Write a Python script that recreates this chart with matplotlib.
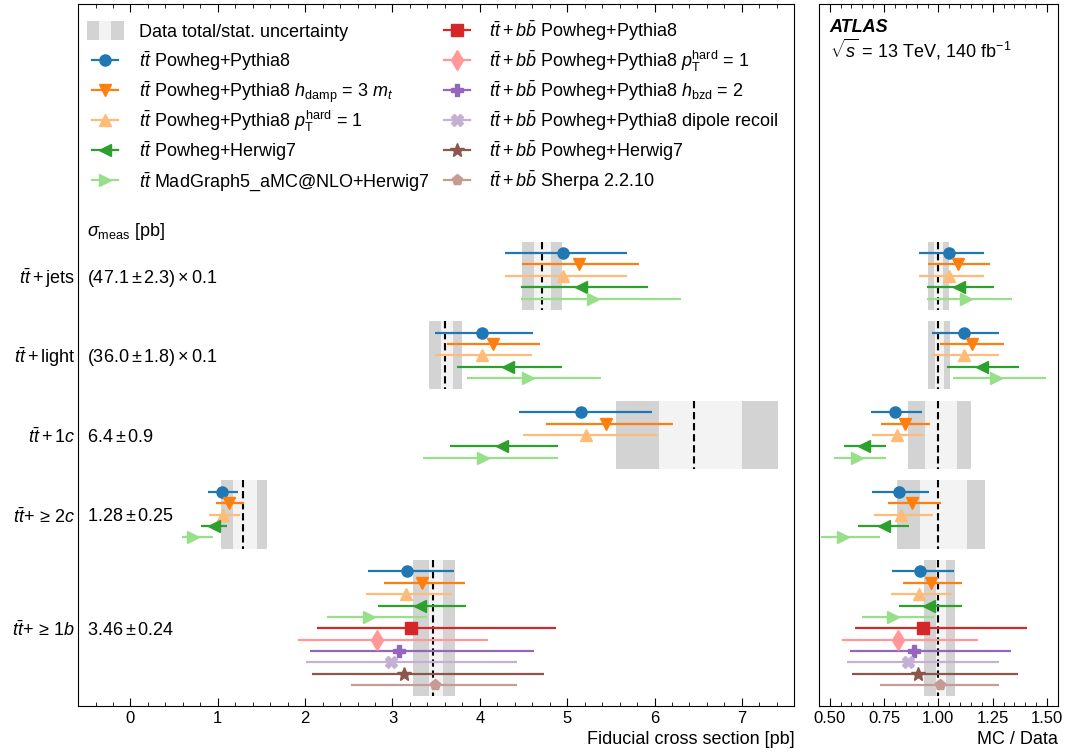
import numpy as np
import matplotlib
matplotlib.use("Agg")
from matplotlib import pyplot as plt
from matplotlib.patches import Rectangle
from matplotlib.ticker import MultipleLocator, FormatStrFormatter

plt.rcParams['font.family'] = ['Liberation Sans', 'DejaVu Sans']
plt.rcParams['mathtext.fontset'] = 'custom'
plt.rcParams['mathtext.rm'] = 'Liberation Sans'
plt.rcParams['mathtext.it'] = 'Liberation Sans:italic'
plt.rcParams['mathtext.bf'] = 'Liberation Sans:bold'

# categories (top to bottom)
cat_labels = [r"$t\bar{t}+\mathrm{jets}$", r"$t\bar{t}+\mathrm{light}$", r"$t\bar{t}+1c$",
              r"$t\bar{t}{+}\,\geq\,2c$", r"$t\bar{t}{+}\,\geq\,1b$"]
meas_labels = [r"$(47.1\pm2.3)\times0.1$", r"$(36.0\pm1.8)\times0.1$", r"$6.4\pm0.9$",
               r"$1.28\pm0.25$", r"$3.46\pm0.24$"]

# measured values [pb] (jets and light scaled by 0.1)
data_val = np.array([4.71, 3.60, 6.45, 1.283, 3.46])
tot_lo = np.array([4.48, 3.42, 5.56, 1.04, 3.23])
tot_hi = np.array([4.94, 3.80, 7.41, 1.56, 3.72])
stat_lo = np.array([4.62, 3.55, 6.05, 1.177, 3.42])
stat_hi = np.array([4.82, 3.69, 7.00, 1.451, 3.58])

# tt predictions: central, low, high for each category
tt_names = ["Powheg+Pythia8",
            r"Powheg+Pythia8 $h_{\mathrm{damp}}$ = 3 $m_t$",
            r"Powheg+Pythia8 $p_{\mathrm{T}}^{\mathrm{hard}}$ = 1",
            "Powheg+Herwig7",
            "MadGraph5_aMC@NLO+Herwig7"]
pp8_c = [4.95, 4.02, 5.16, 1.05, 3.17]
pp8_lo = [4.29, 3.49, 4.45, 0.89, 2.72]
pp8_hi = [5.69, 4.61, 5.97, 1.23, 3.71]
hdamp_c = [5.14, 4.15, 5.45, 1.13, 3.34]
hdamp_lo = [4.48, 3.62, 4.76, 0.985, 2.90]
hdamp_hi = [5.82, 4.69, 6.21, 1.30, 3.83]
pthard_c = [4.95, 4.02, 5.21, 1.06, 3.15]
pthard_lo = [4.29, 3.49, 4.49, 0.90, 2.70]
pthard_hi = [5.69, 4.60, 6.03, 1.25, 3.68]
ph7_c = [5.16, 4.32, 4.25, 0.96, 3.31]
ph7_lo = [4.47, 3.74, 3.66, 0.81, 2.83]
ph7_hi = [5.92, 4.94, 4.90, 1.11, 3.84]
mg5_c = [5.30, 4.55, 4.04, 0.72, 2.73]
mg5_lo = [4.47, 3.85, 3.35, 0.59, 2.25]
mg5_hi = [6.30, 5.39, 4.90, 0.94, 3.39]
tt_c = [pp8_c, hdamp_c, pthard_c, ph7_c, mg5_c]
tt_lo = [pp8_lo, hdamp_lo, pthard_lo, ph7_lo, mg5_lo]
tt_hi = [pp8_hi, hdamp_hi, pthard_hi, ph7_hi, mg5_hi]
tt_colors = ['#1f77b4', '#ff7f0e', '#ffbb78', '#2ca02c', '#98df8a']
tt_markers = ['o', 'v', '^', '<', '>']

# tt+bb predictions, only for >=1b
ttbb_names = ["Powheg+Pythia8",
              r"Powheg+Pythia8 $p_{\mathrm{T}}^{\mathrm{hard}}$ = 1",
              r"Powheg+Pythia8 $h_{\mathrm{bzd}}$ = 2",
              "Powheg+Pythia8 dipole recoil",
              "Powheg+Herwig7",
              "Sherpa 2.2.10"]
ttbb_c = [3.21, 2.82, 3.07, 2.98, 3.13, 3.49]
ttbb_lo = [2.14, 1.92, 2.05, 2.01, 2.08, 2.53]
ttbb_hi = [4.87, 4.09, 4.62, 4.42, 4.73, 4.42]
ttbb_colors = ['#d62728', '#ff9896', '#9467bd', '#c5b0d5', '#8c564b', '#c49c94']
ttbb_markers = ['s', 'd', 'P', 'X', '*', 'p']

TOTAL_GREY = '#d3d3d3'
STAT_GREY = '#f3f3f3'


def msize(mk):
    return 10 if mk in ['*', 'd'] else 8


fig = plt.figure(figsize=(10.69, 7.53), dpi=100)
ax = fig.add_axes([0.073, 0.0624, 0.670, 0.9322])
ax2 = fig.add_axes([0.766, 0.0624, 0.2236, 0.9322])

starts = [0, 7, 14, 21, 28]
nrows = [5, 5, 5, 5, 11]

for a, ratio in [(ax, False), (ax2, True)]:
    norm = data_val if ratio else np.ones(5)
    for i in range(5):
        mid = starts[i] + (nrows[i] - 1) / 2.0
        h = nrows[i] + 1
        a.barh(mid, (tot_hi[i] - tot_lo[i]) / norm[i], left=tot_lo[i] / norm[i], height=h,
               color=TOTAL_GREY, zorder=1)
        a.barh(mid, (stat_hi[i] - stat_lo[i]) / norm[i], left=stat_lo[i] / norm[i], height=h,
               color=STAT_GREY, zorder=1)
        a.vlines(data_val[i] / norm[i], mid - h / 2.0, mid + h / 2.0, colors='k',
                 linestyles=(0, (3.5, 1.8)), lw=1.5, zorder=2)

    for m in range(5):
        c = np.array(tt_c[m]) / norm
        lo = np.array(tt_lo[m]) / norm
        hi = np.array(tt_hi[m]) / norm
        y = np.array(starts) + m
        a.errorbar(c, y, xerr=[c - lo, hi - c], fmt=tt_markers[m], color=tt_colors[m],
                   ms=8, elinewidth=1.6, capsize=0, zorder=3)
    for m in range(6):
        c = ttbb_c[m] / norm[4]
        lo = ttbb_lo[m] / norm[4]
        hi = ttbb_hi[m] / norm[4]
        y = starts[4] + 5 + m
        a.errorbar([c], [y], xerr=[[c - lo], [hi - c]], fmt=ttbb_markers[m],
                   color=ttbb_colors[m], ms=msize(ttbb_markers[m]), elinewidth=1.6,
                   capsize=0, zorder=3)

    a.set_ylim(39.84, -21.9)
    a.set_yticks([])
    a.tick_params(axis='x', which='both', direction='in', top=True, labelsize=12)
    a.tick_params(axis='x', which='major', length=6)
    a.tick_params(axis='x', which='minor', length=3)

ax.set_xlim(-0.6, 7.6)
ax.xaxis.set_major_locator(MultipleLocator(1))
ax.xaxis.set_minor_locator(MultipleLocator(0.2))
ax.set_xlabel("Fiducial cross section [pb]", loc='right', fontsize=13)

ax2.set_xlim(0.45, 1.55)
ax2.xaxis.set_major_locator(MultipleLocator(0.25))
ax2.xaxis.set_minor_locator(MultipleLocator(0.05))
ax2.xaxis.set_major_formatter(FormatStrFormatter('%.2f'))
ax2.set_xlabel("MC / Data", loc='right', fontsize=13)

# category labels and measured values
for i in range(5):
    mid = starts[i] + (nrows[i] - 1) / 2.0 + 0.2
    ax.text(-0.004, mid, cat_labels[i], transform=ax.get_yaxis_transform(),
            ha='right', va='center', fontsize=13)
    ax.text(0.0126, mid, meas_labels[i], transform=ax.get_yaxis_transform(),
            ha='left', va='center', fontsize=13)
ax.text(0.0126, -1.9, r"$\sigma_{\mathrm{meas}}$ [pb]", transform=ax.get_yaxis_transform(),
        ha='left', va='center', fontsize=13)

# legend, drawn entry by entry so the rows stay evenly spaced
ax_h = 702.0
ax_w = 716.0
row_y = [1 - (30 + 30 * k - 4) / ax_h for k in range(6)]
base_off = 6.5 / ax_h
col_hx = [(105 - 78) / ax_w, (457 - 78) / ax_w]
col_tx = [(139 - 78) / ax_w, (489 - 78) / ax_w]
half_len = 13 / ax_w

leg_entries = [(None, None, "Data total/stat. uncertainty")]
for m in range(5):
    leg_entries.append((tt_colors[m], tt_markers[m], r"$t\bar{t}$ " + tt_names[m]))
for m in range(6):
    leg_entries.append((ttbb_colors[m], ttbb_markers[m], r"$t\bar{t}+b\bar{b}$ " + ttbb_names[m]))

for k, (col, mk, lab) in enumerate(leg_entries):
    cc, rr = divmod(k, 6)
    yc = row_y[rr]
    if col is None:
        bw = 37 / ax_w
        bh = 19 / ax_h
        x0 = col_hx[cc] - bw / 2
        ax.add_patch(Rectangle((x0, yc - bh / 2), bw, bh, transform=ax.transAxes,
                               facecolor=TOTAL_GREY, edgecolor='none', clip_on=False))
        ax.add_patch(Rectangle((x0 + bw / 3, yc - bh / 2), bw / 3, bh, transform=ax.transAxes,
                               facecolor=STAT_GREY, edgecolor='none', clip_on=False))
    else:
        ax.plot([col_hx[cc] - half_len, col_hx[cc] + half_len], [yc, yc], color=col,
                lw=1.6, transform=ax.transAxes, clip_on=False)
        ax.plot([col_hx[cc]], [yc], marker=mk, color=col, ms=msize(mk), ls='none',
                transform=ax.transAxes, clip_on=False)
    ax.text(col_tx[cc], yc - base_off, lab, transform=ax.transAxes, fontsize=13,
            ha='left', va='baseline')

ax2.text(0.046, 0.9595, "ATLAS", transform=ax2.transAxes, fontsize=13,
         fontweight='bold', fontstyle='italic', ha='left', va='baseline')
ax2.text(0.046, 0.9245, r"$\sqrt{s}$ = 13 TeV, 140 fb$^{-1}$", transform=ax2.transAxes,
         fontsize=13, ha='left', va='baseline')

plt.savefig("out.png", dpi=100)
